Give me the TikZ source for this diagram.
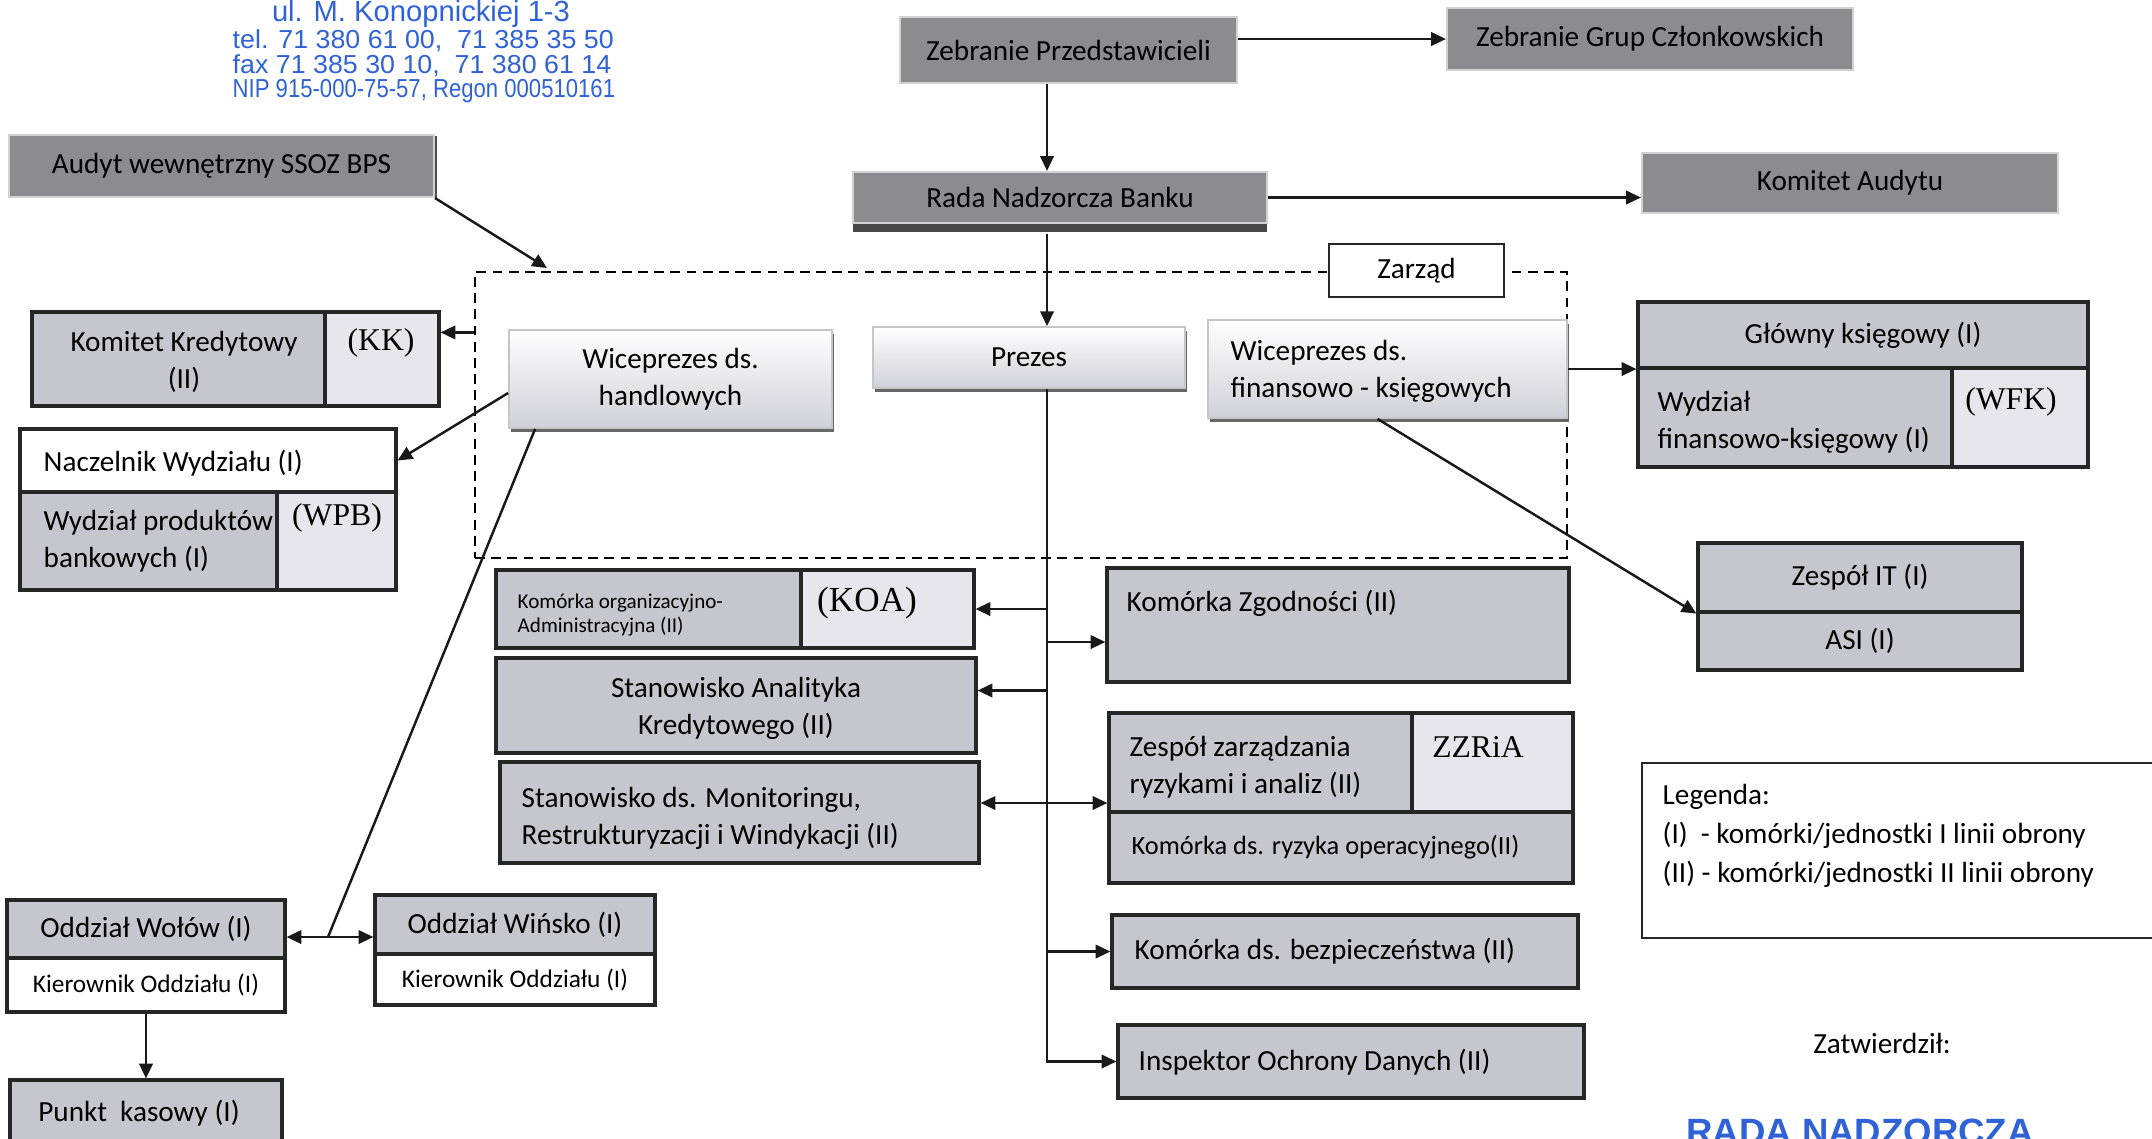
\documentclass[tikz,border=0pt]{standalone}
\usepackage{fontspec}
\usepackage{graphicx}
\setmainfont{Carlito}
\newfontfamily\abbrfont{Liberation Serif}
\newfontfamily\stampfont{Liberation Sans}
\usetikzlibrary{arrows.meta,fit,calc,shadows}
\definecolor{topgray}{HTML}{8C8C8F}
\definecolor{unitgray}{HTML}{C6C6CF}
\definecolor{cellgray}{HTML}{E6E6EC}
\definecolor{vicegray}{HTML}{D0D0D8}
\definecolor{stampblue}{HTML}{2F62D6}

\begin{document}
\begin{tikzpicture}[x=0.01cm, y=-0.01cm,
    topbox/.style={fill=topgray, draw=gray!35, line width=0.6pt},
    vicebox/.style={top color=white, bottom color=vicegray, draw=gray!45, line width=0.5pt,
      drop shadow={shadow xshift=0.6pt, shadow yshift=-1.2pt, fill=black!60, opacity=1}},
    unit/.style={fill=unitgray, draw=black!85, line width=0.9pt},
    abbrcell/.style={fill=cellgray, draw=black!85, line width=0.9pt},
    whitecell/.style={fill=white, draw=black!85, line width=0.9pt},
    abbr/.style={font=\abbrfont\fontsize{9}{11}\selectfont},
    lefttext/.style={anchor=west, align=left},
    small/.style={font=\fontsize{7.2}{9}\selectfont},
    conn/.style={line width=0.7pt, black!90},
    arr/.style={conn, -{Triangle[length=4.2pt,width=3.8pt]}},
    board/.style={draw, dash pattern=on 2.8pt off 1.8pt, line width=0.6pt},
    stamp/.style={text=stampblue, font=\stampfont\fontsize{7.4}{9}\selectfont}]
\tikzstyle{every node}+=[inner sep=0pt, align=center, font=\fontsize{8.3}{10.5}\selectfont]
\useasboundingbox (0,0) rectangle (2152,1138);

\node[stamp, font=\stampfont\fontsize{8.3}{10}\selectfont] (adres) at (421,14) {ul. M. Konopnickiej 1-3};
\node[stamp, anchor=west] (tel) at (232,41) {\scalebox{1.03}[1]{tel. 71 380 61 00,\ \ 71 385 35 50}};
\node[stamp, anchor=west] (fax) at (232,66) {\scalebox{1.03}[1]{fax 71 385 30 10,\ \ 71 380 61 14}};
\node[stamp, anchor=west] (nip) at (232,91) {\scalebox{0.85}[1]{NIP 915-000-75-57, Regon 000510161}};

\node[topbox, fit={(900,17) (1237,83)}] (zp) {};
\node (zpt) at (zp) {Zebranie Przedstawicieli};
\node[topbox, fit={(1447,8) (1853,70)}] (zgc) {};
\node (zgct) at (zgc) {Zebranie Grup Członkowskich};
\node[topbox, fit={(853,172) (1267,223)},
  drop shadow={shadow xshift=0pt, shadow yshift=-2.6pt, fill=black!72, opacity=1}] (rnb) {};
\node (rnbt) at (rnb) {Rada Nadzorcza Banku};
\node[topbox, fit={(1642,153) (2058,213)}] (ka) {};
\node (kat) at (ka) {Komitet Audytu};
\node[topbox, fit={(9,135) (434,197)},
  drop shadow={shadow xshift=0.8pt, shadow yshift=-0.4pt, fill=black!70, opacity=1}] (audyt) {};
\node (audytt) at (audyt) {Audyt wewnętrzny SSOZ BPS};

\node[board, fit={(475,272) (1567,558)}] (board) {};
\node[fill=white, draw=black!85, line width=0.8pt, fit={(1329,244) (1504,297)}] (zarzad) {};
\node (zarzadt) at (zarzad) {Zarząd};
\node[vicebox, fit={(509,330) (832,428)}] (wph) {};
\node (wpht) at (wph) {Wiceprezes ds.\\handlowych};
\node[vicebox, fit={(873,327) (1185,388)}] (prezes) {};
\node (prezest) at (prezes) {Prezes};
\node[vicebox, fit={(1208,320) (1567,418)}] (wpf) {};
\node[lefttext] (wpft) at (1230,371) {Wiceprezes ds.\\finansowo - księgowych};

\node[unit, fit={(32,312) (325,406)}] (kk) {};
\node (kkt) at (184,362) {Komitet Kredytowy\\(II)};
\node[abbrcell, fit={(325,312) (439,406)}] (kkab) {};
\node[abbr] (kkabt) at (381,343) {(KK)};
\node[whitecell, fit={(20,429) (396,492)}] (nw) {};
\node[lefttext] (nwt) at (43,463) {Naczelnik Wydziału (I)};
\node[unit, fit={(20,492) (277,590)}] (wpb) {};
\node[lefttext] (wpbt) at (43,541) {Wydział produktów\\bankowych (I)};
\node[abbrcell, fit={(277,492) (396,590)}] (wpbab) {};
\node[abbr] (wpbabt) at (337,518) {(WPB)};

\node[unit, fit={(1638,302) (2088,368)}] (gk) {};
\node (gkt) at (gk) {Główny księgowy (I)};
\node[unit, fit={(1638,368) (1952,467)}] (wfk) {};
\node[lefttext] (wfkt) at (1657,422) {Wydział\\finansowo-księgowy (I)};
\node[abbrcell, fit={(1952,368) (2088,467)}] (wfkab) {};
\node[abbr] (wfkabt) at (2011,402) {(WFK)};
\node[unit, fit={(1698,543) (2022,612)}] (it) {};
\node (itt) at (it) {Zespół IT (I)};
\node[unit, fit={(1698,612) (2022,670)}] (asi) {};
\node (asit) at (asi) {ASI (I)};

\node[unit, fit={(496,570) (801,648)}] (koa) {};
\node[lefttext, font=\fontsize{6}{6.9}\selectfont] (koat) at (517,615) {Komórka organizacyjno-\\Administracyjna (II)};
\node[abbrcell, fit={(801,570) (974,648)}] (koaab) {};
\node[abbr, font=\abbrfont\fontsize{10}{12}\selectfont] (koaabt) at (867,603) {(KOA)};
\node[unit, fit={(496,658) (976,753)}] (sak) {};
\node (sakt) at (736,708) {Stanowisko Analityka\\Kredytowego (II)};
\node[unit, fit={(500,762) (979,863)}] (smr) {};
\node[lefttext] (smrt) at (521,818) {Stanowisko ds. Monitoringu,\\Restrukturyzacji i Windykacji (II)};

\node[unit, fit={(1107,568) (1569,682)}] (kzg) {};
\node[lefttext] (kzgt) at (1126,603) {Komórka Zgodności (II)};
\node[unit, fit={(1109,713) (1412,812)}] (zzr) {};
\node[lefttext] (zzrt) at (1129,767) {Zespół zarządzania\\ryzykami i analiz (II)};
\node[abbrcell, fit={(1412,713) (1573,812)}] (zzrab) {};
\node[abbr] (zzrabt) at (1478,747) {ZZRiA};
\node[unit, fit={(1109,812) (1573,883)}] (kro) {};
\node[lefttext, font=\fontsize{7.5}{9}\selectfont] (krot) at (1131,847) {Komórka ds. ryzyka operacyjnego(II)};
\node[unit, fit={(1112,915) (1578,988)}] (kbz) {};
\node[lefttext] (kbzt) at (1134,951) {Komórka ds. bezpieczeństwa (II)};
\node[unit, fit={(1118,1025) (1584,1098)}] (iod) {};
\node[lefttext] (iodt) at (1138,1062) {Inspektor Ochrony Danych (II)};

\node[unit, fit={(7,900) (285,958)}] (wolow) {};
\node (wolowt) at (wolow) {Oddział Wołów (I)};
\node[whitecell, fit={(7,958) (285,1012)}] (wolowk) {};
\node[small] (wolowkt) at (wolowk) {Kierownik Oddziału (I)};
\node[unit, fit={(375,895) (655,954)}] (winsko) {};
\node (winskot) at (winsko) {Oddział Wińsko (I)};
\node[whitecell, fit={(375,954) (655,1005)}] (winskok) {};
\node[small] (winskokt) at (winskok) {Kierownik Oddziału (I)};
\node[unit, fit={(10,1080) (282,1150)}] (punkt) {};
\node (punktt) at (139,1113) {Punkt\ \ kasowy (I)};

\node[whitecell, line width=0.8pt, fit={(1642,763) (2170,938)}] (legenda) {};
\node[lefttext, font=\fontsize{8.3}{11.1}\selectfont] (legendat) at (1662,836)
  {Legenda:\\(I)\ \ - komórki/jednostki I linii obrony\\(II) - komórki/jednostki II linii obrony};
\node (zatw) at (1882,1043) {Zatwierdził:};
\node[stamp, anchor=north, font=\stampfont\bfseries\fontsize{10.4}{12}\selectfont] (radastamp) at (1860,1118) {RADA NADZORCZA};

\coordinate (spine) at (1047,0);
\coordinate (auditend) at (547,268);
\coordinate (mon) at (1047,803);
\coordinate (branch) at (328,937);

\draw[arr] (zp.east |- zgc.west) -- (zgc.west);
\draw[arr] (zp.south -| spine) -- (rnb.north -| spine);
\draw[arr] (rnb.east) -- (rnb.east -| ka.west);
\draw[arr] (audyt.south east) -- (auditend);
\draw[arr] ($(rnb.south -| spine)+(0,10)$) -- (prezes.north -| spine);
\draw[arr] (prezes.south -| spine) |- (iod.west);
\draw[arr] (spine |- koaab.east) -- (koaab.east);
\draw[arr] ($(spine |- kzg.west)+(0,17)$) -- ($(kzg.west)+(0,17)$);
\draw[arr] ($(spine |- sak.east)+(0,-15)$) -- ($(sak.east)+(0,-15)$);
\draw[arr] (mon) -- (mon -| smr.east);
\draw[arr] (mon) -- (mon -| zzr.west);
\draw[arr] (spine |- kbz.west) -- (kbz.west);
\draw[arr] ($(board.west |- kkab.north)+(0,22)$) -- ($(kkab.north east)+(0,22)$);
\draw[arr] ($(wph.west)+(0,14)$) -- (nw.east);
\draw[conn] ($(wph.south west)+(27,0)$) -- (branch);
\draw[arr] (branch) -- (branch -| wolow.east);
\draw[arr] (branch) -- (branch -| winsko.west);
\draw[arr] (wolowk.south) -- (punkt.north);
\draw[arr] (wpf.east) -- (wpf.east -| gk.west);
\draw[arr] ($(wpf.south)+(-10,0)$) -- (it.south west);
\end{tikzpicture}
\end{document}
